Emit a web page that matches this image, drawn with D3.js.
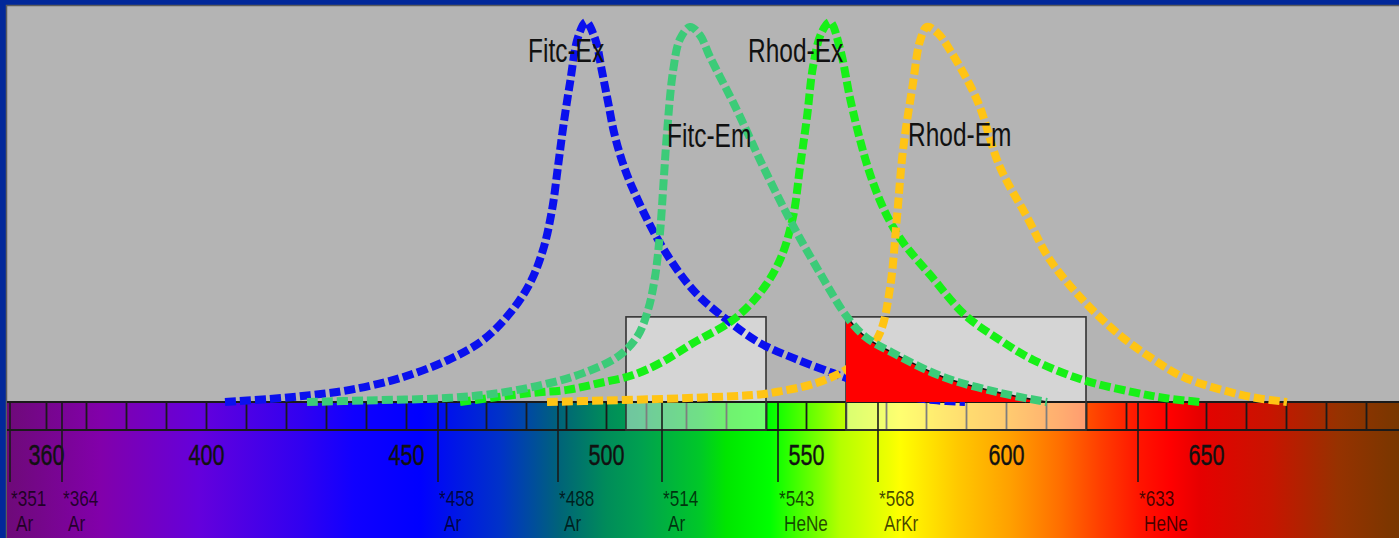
<!DOCTYPE html>
<html>
<head>
<meta charset="utf-8">
<script src="https://cdn.jsdelivr.net/npm/d3@7"></script>
<style>
body { margin: 0; background: #02289a; }
svg { display: block; }
</style>
</head>
<body>
<svg id="chart"></svg>
<script>
// spectra as [wavelength nm, relative intensity]
var fitcEx = [[404.75,0],[416,0.008],[426,0.018],[436,0.032],[448.5,0.063],[461,0.113],[469.25,0.163],[476,0.234],[481,0.313],[484.25,0.4],[486.5,0.505],[488,0.62],[489.25,0.72],[491,0.84],[493,0.96],[495,1.0],[497.3,0.955],[499,0.87],[500.5,0.79],[502,0.71],[504,0.635],[506.75,0.56],[513.5,0.418],[521.75,0.295],[530.25,0.216],[538.5,0.155],[546.75,0.116],[556.75,0.076],[565,0.045],[573.5,0.018],[582,0.005],[589.75,0]];
var fitcEm = [[425.25,0],[440,0.004],[461,0.011],[473.5,0.024],[486,0.05],[494.25,0.076],[502.75,0.118],[507.75,0.171],[510.5,0.242],[512.25,0.329],[513.5,0.445],[514.4,0.58],[515.25,0.708],[516.75,0.87],[518.5,0.955],[521,0.987],[523.5,0.965],[526,0.908],[532.75,0.768],[538.5,0.637],[546,0.479],[553.5,0.339],[560.25,0.224],[565,0.17],[571.75,0.129],[584.25,0.066],[598.5,0.024],[610.25,0]];
var rhodEx = [[463.5,0],[472,0.012],[481.75,0.024],[490.25,0.032],[498.5,0.05],[506.75,0.071],[514,0.105],[521.75,0.155],[531.75,0.216],[538.5,0.287],[543.5,0.374],[546.75,0.487],[548.5,0.618],[550.25,0.75],[551.75,0.882],[553.8,0.97],[556,1.0],[558.5,0.93],[561,0.8],[563.5,0.69],[566,0.6],[568.5,0.53],[571,0.475],[574.25,0.42],[581,0.335],[589.75,0.229],[598.5,0.163],[606.75,0.111],[619.25,0.058],[631.75,0.026],[640,0.01],[648.5,0]];
var rhodEm = [[485.25,0],[500,0.004],[521.75,0.011],[538.5,0.02],[543.5,0.028],[552,0.048],[558.5,0.076],[564.25,0.118],[568.5,0.182],[571,0.3],[572.75,0.487],[574.25,0.663],[576.75,0.839],[578.5,0.95],[580.25,0.987],[583,0.97],[586,0.926],[592.75,0.795],[598.5,0.618],[605.25,0.487],[611,0.374],[619.25,0.268],[627.75,0.182],[636,0.118],[644.25,0.066],[656.75,0.024],[663,0.01],[670.25,0]];

var seriesNames = ["Fitc-Ex", "Rhod-Ex", "Rhod-Em", "Fitc-Em"];
var seriesData = [fitcEx, rhodEx, rhodEm, fitcEm];
var seriesColors = ["#0a10ee", "#17f017", "#ffc414", "#3ccb78"];
// where each name is written, in nm / intensity
var labelNm = [480.5, 535.5, 575.5, 515.25];
var labelVal = [0.895, 0.895, 0.674, 0.671];

// filter pass bands
var filterLo = [505, 560];
var filterHi = [540, 620];
var filterTop = 0.224;

// laser lines
var laserNm = [351, 364, 458, 488, 514, 543, 568, 633];
var laserGas = ["Ar", "Ar", "Ar", "Ar", "Ar", "HeNe", "ArKr", "HeNe"];

var tickLabels = [360, 400, 450, 500, 550, 600, 650];
var bandTicks = d3.range(360, 691, 10);

var spectrumNm = [350, 373.5, 398.5, 423.5, 437, 453.5, 473.5, 488.5, 500, 508.5, 523.5, 530, 541, 553, 558.5, 571, 573.5, 588, 601, 613.5, 624, 633.5, 641, 648.5, 666, 683, 698.25];
var spectrumColors = ["#6e0a78", "#8200aa", "#6400dc", "#3200f0", "#1000ff", "#0000ff", "#0032c8", "#006478", "#008c5a", "#00a050", "#00c828", "#00e600", "#00ff00", "#78ff00", "#b4ff00", "#f0ff00", "#ffff00", "#ffc800", "#ffa000", "#ff6e00", "#ff3c00", "#ff1400", "#ff0000", "#e60000", "#c81400", "#963200", "#783700"];

var width = 1399, height = 538;
var baseY = 402, peakY = 22, bandBottom = 430;
var font = "'Liberation Sans', Arial, sans-serif";

var xScale = d3.scaleLinear().domain([400, 650]).range([206, 1206]);
var yScale = d3.scaleLinear().domain([0, 1]).range([baseY, peakY]);

var svg = d3.select("#chart").attr("width", width).attr("height", height);
var defs = svg.append("defs");

// blue frame and grey panel
svg.append("rect").attr("width", width).attr("height", height).attr("fill", "#02289a");
svg.append("rect")
	.attr("x", 6.5).attr("y", 5.5)
	.attr("width", width).attr("height", height)
	.attr("fill", "#b4b4b4")
	.attr("stroke", "#5c5c5c")
	.attr("stroke-width", 1.5);

// rainbow gradient
var grad = defs.append("linearGradient")
	.attr("id", "spectrum")
	.attr("gradientUnits", "userSpaceOnUse")
	.attr("x1", 0).attr("x2", width).attr("y1", 0).attr("y2", 0);
grad.selectAll("stop")
	.data(spectrumNm)
	.enter().append("stop")
	.attr("offset", function(d) { return xScale(d) / width; })
	.attr("stop-color", function(d, i) { return spectrumColors[i]; });

svg.append("rect")
	.attr("x", 7).attr("y", baseY)
	.attr("width", width - 7).attr("height", height - baseY)
	.attr("fill", "url(#spectrum)");

// ticks inside the band
var bandAxis = d3.axisBottom(xScale).tickValues(bandTicks).tickSize(bandBottom - baseY).tickFormat("");
var gBand = svg.append("g").attr("transform", "translate(0," + baseY + ")").call(bandAxis);
gBand.select(".domain").remove();
gBand.selectAll("line").attr("stroke", "#1a1a1a").attr("stroke-width", 1.8);

// filter boxes (translucent)
svg.selectAll(".filter")
	.data(filterLo)
	.enter().append("rect")
	.attr("class", "filter")
	.attr("x", function(d) { return xScale(d); })
	.attr("y", yScale(filterTop))
	.attr("width", function(d, i) { return xScale(filterHi[i]) - xScale(d); })
	.attr("height", bandBottom - yScale(filterTop))
	.attr("fill", "#ffffff")
	.attr("fill-opacity", 0.44);

// band top and bottom lines
svg.selectAll(".bandline")
	.data([baseY, bandBottom])
	.enter().append("line")
	.attr("class", "bandline")
	.attr("x1", 7).attr("x2", width)
	.attr("y1", function(d) { return d; }).attr("y2", function(d) { return d; })
	.attr("stroke", "#1a1a1a")
	.attr("stroke-width", 1.8);

svg.selectAll(".filterEdge")
	.data(filterLo)
	.enter().append("rect")
	.attr("class", "filterEdge")
	.attr("x", function(d) { return xScale(d); })
	.attr("y", yScale(filterTop))
	.attr("width", function(d, i) { return xScale(filterHi[i]) - xScale(d); })
	.attr("height", bandBottom - yScale(filterTop))
	.attr("fill", "none")
	.attr("stroke", "#333")
	.attr("stroke-width", 1.6);

// wavelength numbers
var numAxis = d3.axisBottom(xScale).tickValues(tickLabels).tickSize(0);
var gNum = svg.append("g").call(numAxis);
gNum.select(".domain").remove();
gNum.attr("font-size", 30).attr("font-family", font);
gNum.selectAll("text")
	.attr("y", 465).attr("dy", null)
	.attr("transform", "scale(0.72,1)")
	.attr("fill", "#111")
	.attr("stroke", "#111")
	.attr("stroke-width", 0.4);

// laser lines and labels
var gLaser = svg.append("g").attr("font-family", font).attr("font-size", 22);
var laser = gLaser.selectAll(".laser")
	.data(laserNm)
	.enter().append("g")
	.attr("class", "laser")
	.attr("transform", function(d) { return "translate(" + xScale(d) + ",0)"; });
laser.append("line")
	.attr("y1", baseY).attr("y2", 482)
	.attr("stroke", "#1a1a1a")
	.attr("stroke-width", 1.6);
laser.append("text")
	.attr("transform", "translate(1,506) scale(0.78,1)")
	.attr("fill", "#000").attr("fill-opacity", 0.72)
	.text(function(d) { return "*" + d; });
laser.append("text")
	.attr("transform", "translate(6,531) scale(0.78,1)")
	.attr("fill", "#000").attr("fill-opacity", 0.72)
	.text(function(d, i) { return laserGas[i]; });

// spectra
var curve = d3.curveCatmullRom.alpha(0.5);
var line = d3.line()
	.x(function(d) { return xScale(d[0]); })
	.y(function(d) { return yScale(d[1]); })
	.curve(curve);

var area = d3.area()
	.x(function(d) { return xScale(d[0]); })
	.y0(yScale(0))
	.y1(function(d) { return yScale(d[1]); })
	.curve(curve);

// clip for the emission that passes the second filter
defs.append("clipPath").attr("id", "passClip")
	.append("rect")
	.attr("x", xScale(filterLo[1]))
	.attr("y", yScale(filterTop))
	.attr("width", xScale(filterHi[1]) - xScale(filterLo[1]))
	.attr("height", yScale(0) - yScale(filterTop));

function drawCurve(i) {
	svg.append("path")
		.datum(seriesData[i])
		.attr("d", line)
		.attr("fill", "none")
		.attr("stroke", seriesColors[i])
		.attr("stroke-width", 8)
		.attr("stroke-dasharray", "11,4");
}

drawCurve(0);
drawCurve(1);
drawCurve(2);

svg.append("path")
	.datum(fitcEm)
	.attr("clip-path", "url(#passClip)")
	.attr("d", area)
	.attr("fill", "#ff0000");
svg.append("path")
	.datum(fitcEm)
	.attr("clip-path", "url(#passClip)")
	.attr("d", line)
	.attr("fill", "none")
	.attr("stroke", "#111")
	.attr("stroke-width", 1.6);

drawCurve(3);

// names
svg.append("g")
	.attr("font-family", font)
	.attr("font-size", 34)
	.selectAll("text")
	.data(seriesNames)
	.enter().append("text")
	.attr("transform", function(d, i) { return "translate(" + xScale(labelNm[i]) + "," + yScale(labelVal[i]) + ") scale(0.72,1)"; })
	.attr("fill", "#111")
	.text(function(d) { return d; });
</script>
</body>
</html>
